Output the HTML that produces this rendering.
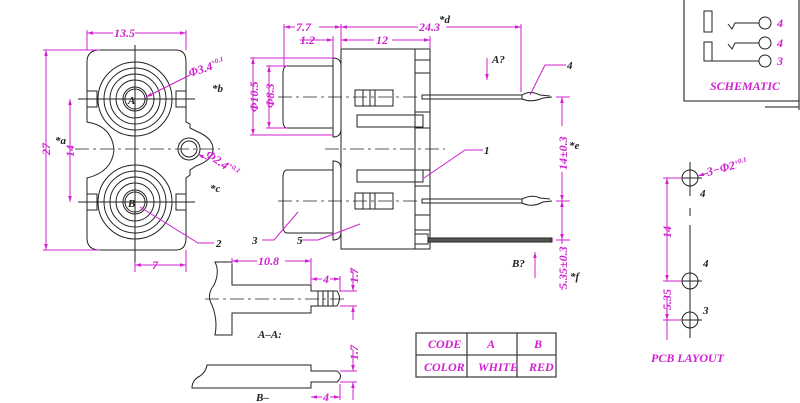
<!DOCTYPE html>
<html><head><meta charset="utf-8"><style>
html,body{margin:0;padding:0;background:#fff;width:800px;height:403px;overflow:hidden}
svg{display:block}
.k{stroke:#222;fill:none;stroke-width:1}
.m{stroke:#d020d0;fill:none;stroke-width:1}
.c{stroke:#222;stroke-width:0.8;stroke-dasharray:14,4,3,4;fill:none}
text{font-family:"Liberation Serif",serif;font-style:italic;font-weight:bold}
.mt{fill:#d020d0;font-size:12px}
.kt{fill:#222;font-size:11px}
</style></head><body>
<svg width="800" height="403" viewBox="0 0 800 403" xmlns="http://www.w3.org/2000/svg">
<defs><marker id="a" viewBox="0 0 10 10" refX="10" refY="5" markerWidth="6" markerHeight="6" orient="auto-start-reverse"><path d="M0,2 L10,5 L0,8z" fill="#d020d0"/></marker></defs>

<!-- FRONT VIEW -->
<path class="k" d="M100,50 H176 Q186,50 186,62 V122 L190,124 V128 L196,131 Q213,138 213,149 Q213,160 196,166 L190,170 V175 L186,178 V238 Q186,250 176,250 H100 Q87,250 87,238 V178 Q112,172 114,150 Q112,126 87,122 V62 Q87,50 100,50Z"/>
<g class="k">
<circle cx="135" cy="99" r="37"/><circle cx="135" cy="99" r="31"/><circle cx="135" cy="99" r="25"/><circle cx="135" cy="99" r="19"/><circle cx="135" cy="99" r="12"/><circle cx="135" cy="99" r="10"/>
<circle cx="135" cy="202" r="37"/><circle cx="135" cy="202" r="31"/><circle cx="135" cy="202" r="25"/><circle cx="135" cy="202" r="19"/><circle cx="135" cy="202" r="12"/><circle cx="135" cy="202" r="10"/>
<circle cx="189" cy="149" r="11"/><circle cx="189" cy="149" r="8"/>
<rect x="87" y="91" width="10" height="16"/><rect x="176" y="91" width="10" height="16"/>
<rect x="87" y="194" width="10" height="16"/><rect x="176" y="194" width="10" height="16"/>
<line x1="135" y1="45" x2="135" y2="270"/>
<line x1="78" y1="99" x2="195" y2="99"/><line x1="78" y1="202" x2="195" y2="202"/>
</g>
<line class="c" x1="75" y1="149" x2="220" y2="149"/>
<text x="128" y="104" class="kt" font-size="15">A</text>
<text x="128" y="207" class="kt" font-size="15">B</text>
<g class="m">
<line x1="87" y1="30" x2="87" y2="50"/><line x1="186" y1="30" x2="186" y2="50"/>
<line x1="87" y1="33" x2="186" y2="33" marker-start="url(#a)" marker-end="url(#a)"/>
<line x1="43" y1="50" x2="100" y2="50"/><line x1="43" y1="250" x2="100" y2="250"/>
<line x1="46" y1="50" x2="46" y2="250" marker-start="url(#a)" marker-end="url(#a)"/>
<line x1="70" y1="99" x2="70" y2="202" marker-start="url(#a)" marker-end="url(#a)"/>
<line x1="135" y1="262" x2="135" y2="272"/><line x1="186" y1="250" x2="186" y2="272"/>
<line x1="135" y1="265" x2="186" y2="265" marker-start="url(#a)" marker-end="url(#a)"/>
<line x1="190" y1="75" x2="146" y2="97" marker-end="url(#a)"/>
<line x1="208" y1="160" x2="198" y2="154" marker-end="url(#a)"/>
<polyline points="214,243 198,243 140,207"/>
</g>
<rect x="113" y="26" width="22" height="12" fill="#fff"/><text x="114" y="37" class="mt">13.5</text>
<text x="50" y="155" class="mt" transform="rotate(-90 50 155)">27</text>
<text x="74" y="157" class="mt" transform="rotate(-90 74 157)">14</text>
<text x="152" y="269" class="mt">7</text>
<text x="190" y="77" class="mt" transform="rotate(-18 190 77)">Φ3.4<tspan font-size="7" dy="-5">+0.1</tspan></text>
<text x="205" y="156" class="mt" transform="rotate(35 205 156)">Φ2.4<tspan font-size="7" dy="-5">+0.1</tspan></text>
<text x="212" y="92" class="kt" font-size="10">*b</text>
<text x="55" y="144" class="kt" font-size="10">*a</text>
<text x="210" y="192" class="kt" font-size="10">*c</text>
<text x="216" y="247" class="kt">2</text>

<!-- SIDE VIEW -->
<g class="k">
<rect x="341" y="49" width="74" height="200"/>
<rect x="415" y="49" width="15" height="200"/>
<path d="M333,58 Q341,58 341,66 V129 Q341,137 333,137 Z"/>
<path d="M287,66 H333 V128 H287 Q283,128 283,120 V74 Q283,66 287,66Z"/>
<path d="M333,161 Q341,161 341,169 V232 Q341,240 333,240 Z"/>
<path d="M287,170 H333 V233 H287 Q283,233 283,225 V178 Q283,170 287,170Z"/>
<rect x="355" y="90" width="38" height="16"/><line x1="363" y1="90" x2="363" y2="106"/><line x1="370" y1="90" x2="370" y2="106"/><line x1="375" y1="90" x2="375" y2="106"/>
<rect x="355" y="193" width="38" height="16"/><line x1="363" y1="193" x2="363" y2="209"/><line x1="370" y1="193" x2="370" y2="209"/><line x1="375" y1="193" x2="375" y2="209"/>
<rect x="357" y="115" width="66" height="12"/><rect x="357" y="170" width="66" height="12"/>
<rect x="415" y="60" width="15" height="13"/><rect x="415" y="112" width="15" height="16"/>
<rect x="415" y="170" width="15" height="16"/><rect x="415" y="215" width="15" height="15"/>
<rect x="422" y="95" width="100" height="4"/><rect x="422" y="199" width="100" height="4"/>
<path d="M522,95 Q530,90 540,95 L550,96 M522,99 Q532,103 543,98 L552,97"/>
<path d="M522,199 Q532,194 540,198 L550,199 M522,203 Q532,208 543,202 L552,201"/>
<rect x="428" y="238" width="124" height="4" fill="#555"/>
<rect x="415" y="234" width="13" height="10"/>
</g>
<line class="c" x1="278" y1="97" x2="420" y2="97"/>
<line class="c" x1="278" y1="201" x2="420" y2="201"/>
<line class="c" x1="325" y1="149" x2="445" y2="149"/>
<g class="m">
<line x1="284" y1="24" x2="284" y2="66"/><line x1="341" y1="24" x2="341" y2="49"/><line x1="521" y1="24" x2="521" y2="92"/><line x1="333" y1="36" x2="333" y2="58"/><line x1="430" y1="36" x2="430" y2="49"/>
<line x1="284" y1="27" x2="341" y2="27" marker-start="url(#a)" marker-end="url(#a)"/>
<line x1="341" y1="27" x2="521" y2="27" marker-start="url(#a)" marker-end="url(#a)"/>
<line x1="300" y1="40" x2="333" y2="40" marker-end="url(#a)"/>
<line x1="341" y1="40" x2="430" y2="40" marker-start="url(#a)" marker-end="url(#a)"/>
<line x1="250" y1="58" x2="333" y2="58"/><line x1="250" y1="135" x2="333" y2="135"/>
<line x1="253" y1="58" x2="253" y2="135" marker-start="url(#a)" marker-end="url(#a)"/>
<line x1="266" y1="66" x2="287" y2="66"/><line x1="266" y1="128" x2="287" y2="128"/>
<line x1="269" y1="66" x2="269" y2="128" marker-start="url(#a)" marker-end="url(#a)"/>
<line x1="556" y1="97" x2="570" y2="97"/><line x1="556" y1="201" x2="570" y2="201"/><line x1="556" y1="240" x2="570" y2="240"/>
<line x1="562" y1="97" x2="562" y2="201" marker-start="url(#a)" marker-end="url(#a)"/>
<line x1="562" y1="201" x2="562" y2="240" marker-start="url(#a)" marker-end="url(#a)"/>
<line x1="562" y1="240" x2="562" y2="290"/>
<polyline points="566,65 545,65 530,95"/>
<polyline points="483,150 465,150 424,178"/>
<polyline points="262,240 274,240 298,212"/>
<polyline points="301,240 318,240 360,224"/>
<line x1="487" y1="58" x2="487" y2="80" marker-end="url(#a)"/>
<line x1="535" y1="278" x2="535" y2="252" marker-end="url(#a)"/>
</g>
<rect x="295" y="21" width="24" height="12" fill="#fff"/><text x="296" y="31" class="mt">7.7</text>
<rect x="418" y="21" width="28" height="12" fill="#fff"/><text x="419" y="31" class="mt">24.3</text>
<text x="300" y="44" class="mt">1.2</text>
<rect x="374" y="34" width="18" height="12" fill="#fff"/><text x="376" y="44" class="mt">12</text>
<text x="258" y="112" class="mt" transform="rotate(-90 258 112)">Φ10.5</text>
<text x="274" y="108" class="mt" transform="rotate(-90 274 108)">Φ8.3</text>
<rect x="555" y="126" width="14" height="46" fill="#fff"/><text x="567" y="170" class="mt" transform="rotate(-90 567 170)">14±0.3</text>
<rect x="555" y="244" width="14" height="44" fill="#fff"/><text x="567" y="289" class="mt" transform="rotate(-90 567 289)">5.35±0.3</text>
<text x="439" y="23" class="kt" font-size="10">*d</text>
<text x="569" y="149" class="kt" font-size="10">*e</text>
<text x="570" y="280" class="kt" font-size="10">*f</text>
<text x="492" y="63" class="kt" font-size="10">A?</text>
<text x="512" y="267" class="kt" font-size="10">B?</text>
<text x="567" y="69" class="kt">4</text>
<text x="484" y="154" class="kt">1</text>
<text x="252" y="244" class="kt">3</text>
<text x="297" y="244" class="kt">5</text>

<!-- A-A view -->
<g class="k">
<path d="M215,262 H232 V285 H311 V291 H337 Q342,298 337,306 H311 V313 H232 V335 H215 Q218,320 212,305 Q206,295 214,285 Q220,272 215,262Z"/>
<line x1="318" y1="291" x2="318" y2="306"/><line x1="323" y1="291" x2="323" y2="306"/><line x1="328" y1="291" x2="328" y2="306"/><line x1="333" y1="291" x2="333" y2="306"/>
<path d="M207,365 H311 V371 H337 Q344,376 337,382 H311 V388 H192 Q192,380 200,376 Q206,372 207,365Z"/>
</g>
<line class="c" x1="205" y1="299" x2="345" y2="299"/>
<g class="m">
<line x1="232" y1="258" x2="232" y2="264"/><line x1="311" y1="258" x2="311" y2="285"/><line x1="340" y1="276" x2="340" y2="292"/>
<line x1="232" y1="261" x2="311" y2="261" marker-start="url(#a)" marker-end="url(#a)"/>
<line x1="311" y1="279" x2="340" y2="279" marker-start="url(#a)" marker-end="url(#a)"/>
<line x1="340" y1="291" x2="357" y2="291"/><line x1="340" y1="306" x2="357" y2="306"/>
<line x1="353" y1="270" x2="353" y2="291" marker-end="url(#a)"/><line x1="353" y1="320" x2="353" y2="306" marker-end="url(#a)"/>
<line x1="340" y1="371" x2="357" y2="371"/><line x1="340" y1="382" x2="357" y2="382"/>
<line x1="353" y1="350" x2="353" y2="371" marker-end="url(#a)"/><line x1="353" y1="400" x2="353" y2="382" marker-end="url(#a)"/>
<line x1="340" y1="384" x2="340" y2="400"/>
<line x1="311" y1="397" x2="340" y2="397" marker-start="url(#a)" marker-end="url(#a)"/>
</g>
<rect x="257" y="255" width="28" height="12" fill="#fff"/><text x="258" y="265" class="mt">10.8</text>
<rect x="322" y="273" width="8" height="12" fill="#fff"/><text x="323" y="283" class="mt">4</text>
<text x="358" y="283" class="mt" transform="rotate(-90 358 283)">1.7</text>
<text x="358" y="360" class="mt" transform="rotate(-90 358 360)">1.7</text>
<rect x="322" y="392" width="8" height="11" fill="#fff"/><text x="323" y="401" class="mt">4</text>
<text x="258" y="338" class="kt" font-size="11">A–A:</text>
<text x="256" y="401" class="kt" font-size="11">B–</text>

<!-- TABLE -->
<g stroke="#444" stroke-width="1.3" fill="none">
<rect x="416" y="333" width="140" height="44"/>
<line x1="416" y1="355" x2="556" y2="355"/>
<line x1="467" y1="333" x2="467" y2="377"/><line x1="517" y1="333" x2="517" y2="377"/>
</g>
<text x="428" y="348" class="mt" font-size="10">CODE</text>
<text x="487" y="348" class="mt" font-size="10">A</text>
<text x="534" y="348" class="mt" font-size="10">B</text>
<text x="424" y="371" class="mt" font-size="10">COLOR</text>
<text x="478" y="371" class="mt" font-size="10">WHITE</text>
<text x="529" y="371" class="mt" font-size="10">RED</text>

<!-- SCHEMATIC -->
<g stroke="#444" stroke-width="1.3" fill="none">
<polyline points="684,0 684,101 799,101 799,0"/>
<line x1="765" y1="107" x2="799" y2="107"/>
<line x1="799" y1="100" x2="799" y2="110"/>
</g>
<g class="k">
<rect x="704" y="11" width="8" height="21"/><rect x="704" y="42" width="8" height="19"/>
<polyline points="728,24 732,29 735,23 759,23"/><circle cx="765" cy="23" r="6"/>
<polyline points="728,44 732,49 735,43 759,43"/><circle cx="765" cy="43" r="6"/>
<polyline points="712,61 759,61"/><circle cx="765" cy="61" r="6"/>
</g>
<text x="777" y="27" class="mt" font-size="10">4</text>
<text x="777" y="47" class="mt" font-size="10">4</text>
<text x="777" y="65" class="mt" font-size="10">3</text>
<text x="710" y="90" class="mt" font-size="10">SCHEMATIC</text>

<!-- PCB -->
<g class="k">
<circle cx="690" cy="178" r="8"/><circle cx="690" cy="281" r="8"/><circle cx="690" cy="320" r="8"/>
<line x1="678" y1="178" x2="702" y2="178"/><line x1="690" y1="162" x2="690" y2="196"/>
<line x1="678" y1="281" x2="702" y2="281"/><line x1="690" y1="225" x2="690" y2="300"/>
<line x1="678" y1="320" x2="702" y2="320"/><line x1="690" y1="300" x2="690" y2="338"/>
<line x1="690" y1="208" x2="690" y2="216"/>
</g>
<g class="m">
<line x1="663" y1="178" x2="682" y2="178"/><line x1="663" y1="281" x2="682" y2="281"/><line x1="663" y1="320" x2="682" y2="320"/>
<line x1="667" y1="178" x2="667" y2="281" marker-start="url(#a)" marker-end="url(#a)"/>
<line x1="667" y1="296" x2="667" y2="320" marker-end="url(#a)"/>
<line x1="667" y1="340" x2="667" y2="320"/>
<line x1="708" y1="173" x2="698" y2="176" marker-end="url(#a)"/>
</g>
<text x="708" y="176" class="mt" font-size="10" transform="rotate(-15 708 176)">3−Φ2<tspan font-size="7" dy="-4">+0.1</tspan></text>
<text x="700" y="197" class="kt" font-size="10">4</text>
<text x="703" y="267" class="kt" font-size="10">4</text>
<text x="703" y="314" class="kt" font-size="10">3</text>
<text x="671" y="238" class="mt" font-size="10" transform="rotate(-90 671 238)">14</text>
<text x="671" y="310" class="mt" font-size="10" transform="rotate(-90 671 310)">5.35</text>
<text x="651" y="362" class="mt" font-size="10">PCB  LAYOUT</text>
</svg>
</body></html>
